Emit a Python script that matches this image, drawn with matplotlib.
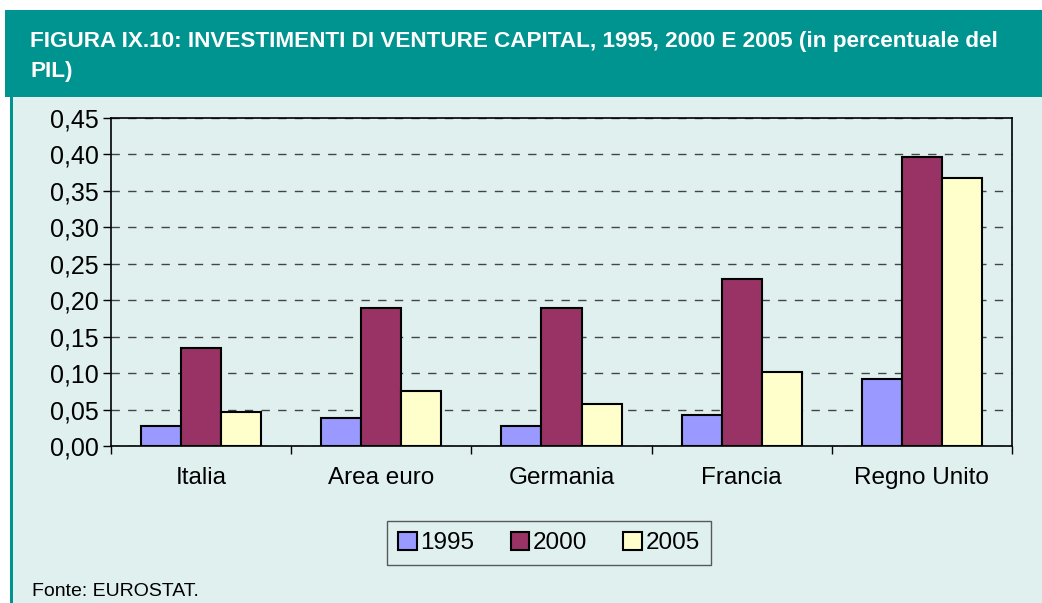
import numpy as np
import matplotlib.pyplot as plt
from matplotlib.patches import Rectangle

paesi = ['Italia', 'Area euro', 'Germania', 'Francia', 'Regno Unito']
anni = ['1995', '2000', '2005']
v1995 = [0.027, 0.038, 0.027, 0.043, 0.092]
v2000 = [0.135, 0.190, 0.190, 0.229, 0.396]
v2005 = [0.047, 0.075, 0.058, 0.101, 0.368]
colori = ['#9999FF', '#993366', '#FFFFCC']
yticks = [0.0, 0.05, 0.10, 0.15, 0.20, 0.25, 0.30, 0.35, 0.40, 0.45]

plt.rcParams['font.family'] = ['Liberation Sans', 'DejaVu Sans']

W, H = 1042, 603
fig = plt.figure(figsize=(W / 100, H / 100), dpi=100)
fig.patch.set_facecolor('white')

# pannello chiaro e intestazione verde acqua
fig.patches.append(Rectangle((10 / W, 0), 1 - 10 / W, 1 - 97 / H, transform=fig.transFigure,
                             facecolor='#DFF0EF', edgecolor='none', zorder=-2))
fig.patches.append(Rectangle((10 / W, 0), 3 / W, 1 - 97 / H, transform=fig.transFigure,
                             facecolor='#009490', edgecolor='none', zorder=-1))
fig.patches.append(Rectangle((5 / W, 1 - 97 / H), 1 - 5 / W, 87 / H, transform=fig.transFigure,
                             facecolor='#009490', edgecolor='none', zorder=-1))
fig.text(30 / W, 1 - 42 / H, 'FIGURA IX.10: INVESTIMENTI DI VENTURE CAPITAL, 1995, 2000 E 2005 (in percentuale del',
         color='white', fontsize=16.2, fontweight='bold', va='center', ha='left')
fig.text(30 / W, 1 - 71 / H, 'PIL)', color='white', fontsize=16.2, fontweight='bold', va='center', ha='left')

ax = fig.add_axes([111 / W, 1 - 446 / H, (1012 - 111) / W, (446 - 118) / H])
ax.set_zorder(2)
ax.set_facecolor('#DFF0EF')

x = np.arange(len(paesi))
bw = 0.222
for i, (vals, c, lab) in enumerate(zip([v1995, v2000, v2005], colori, anni)):
    ax.bar(x + (i - 1) * bw, vals, bw, color=c, edgecolor='black', linewidth=1.5, label=lab, zorder=3)

ax.set_xlim(-0.5, len(paesi) - 0.5)
ax.set_ylim(0, 0.45)
ax.set_yticks(yticks)
ax.set_yticklabels([f'{t:.2f}'.replace('.', ',') for t in yticks], fontsize=18)
ax.yaxis.grid(True, linestyle=(0, (6, 6)), color='#444444', linewidth=1)
ax.set_axisbelow(True)

ax.set_xticks(np.arange(len(paesi) + 1) - 0.5)
ax.set_xticklabels([])
ax.set_xticks(x, minor=True)
ax.set_xticklabels(paesi, minor=True, fontsize=17.5)
ax.tick_params(axis='x', which='minor', length=0, pad=15)
ax.tick_params(axis='x', which='major', length=6, width=1)
ax.tick_params(axis='y', length=6, width=1, pad=3)
for s in ax.spines.values():
    s.set_linewidth(1.2)
    s.set_color('black')

leg = ax.legend(loc='center', bbox_to_anchor=((549 - 111) / (1012 - 111), -(543 - 446) / (446 - 118)),
                ncol=3, fontsize=17.5, frameon=True, fancybox=False, edgecolor='#333333',
                handlelength=0.75, handleheight=0.75, handletextpad=0.15, columnspacing=1.5,
                borderpad=0.45)
leg.get_frame().set_facecolor('#DFF0EF')
leg.get_frame().set_linewidth(1)

fig.text(32 / W, 1 - 591 / H, 'Fonte: EUROSTAT.', fontsize=14, va='center', ha='left')

fig.savefig('out.png', dpi=100)
